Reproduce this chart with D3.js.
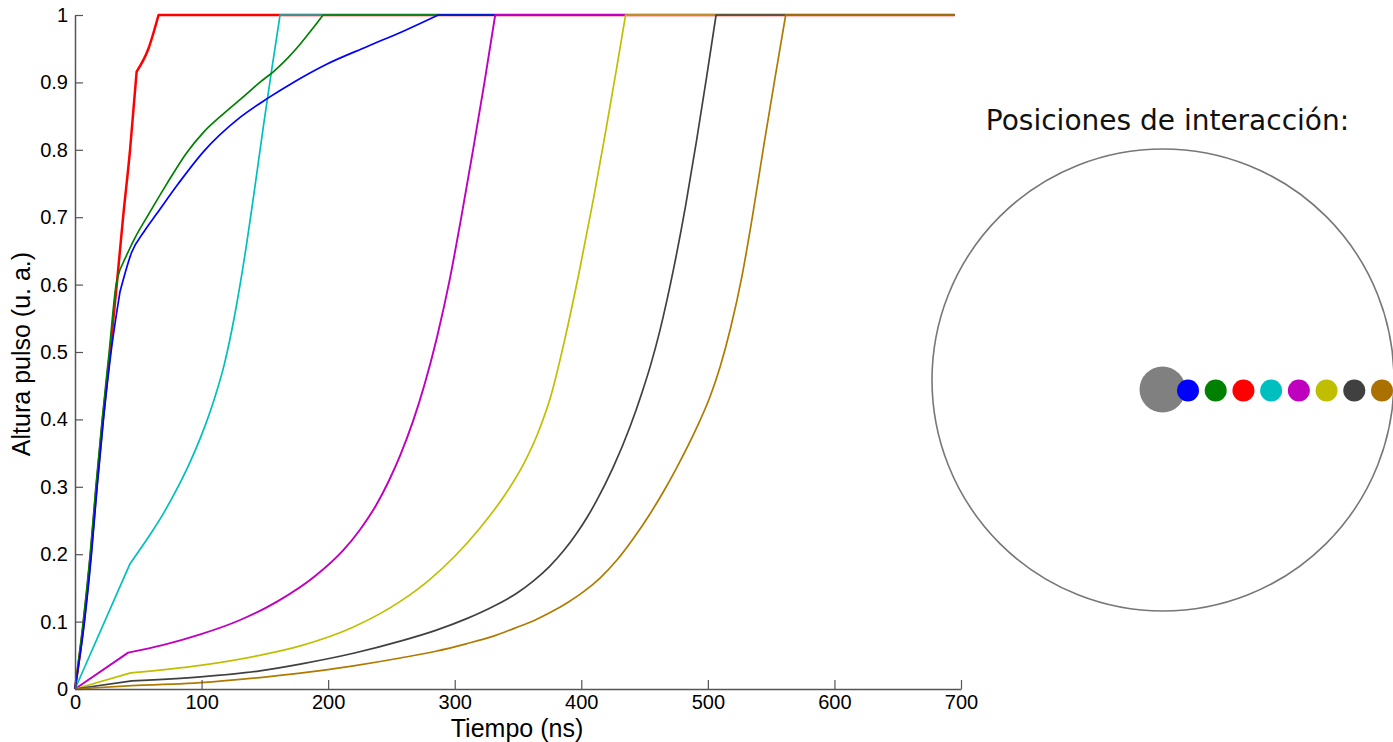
<!DOCTYPE html>
<html>
<head>
<meta charset="utf-8">
<script src="https://cdn.jsdelivr.net/npm/d3@7"></script>
<style>
  body { margin: 0; background: #fff; }
  svg { display: block; }
</style>
</head>
<body>
<div id="chart"></div>
<script>
// tiempo (ns), altura (u. a.)
var rojo = [[0,0],[7,0.1],[12.5,0.2],[17,0.3],[22,0.4],[27.7,0.5],[33,0.6],[38,0.7],[43.5,0.8],[48.7,0.916],[58,0.95],[66,1],[695,1]];
var cian = [[0,0],[43.5,0.186],[60,0.231],[70,0.261],[80,0.295],[90,0.333],[100,0.377],[110,0.43],[118,0.482],[126,0.553],[134,0.641],[142,0.743],[149,0.837],[155.5,0.92],[162,1],[695,1]];
var verde = [[0,0],[6.5,0.1],[12,0.2],[16.5,0.3],[21.5,0.4],[27,0.5],[32.5,0.6],[35.5,0.622],[47,0.668],[58.7,0.706],[72.4,0.749],[88,0.795],[102,0.827],[117,0.853],[132,0.877],[146,0.9],[158,0.918],[168,0.936],[178,0.957],[187,0.978],[196,1],[695,1]];
var azul = [[0,0],[7.5,0.1],[13,0.2],[17.5,0.3],[22.5,0.4],[28.5,0.5],[35.5,0.589],[44.8,0.648],[55,0.68],[64.5,0.705],[81.7,0.75],[101.4,0.797],[130.4,0.848],[152.7,0.877],[172.5,0.9],[198.8,0.927],[230.5,0.953],[259.4,0.976],[287,1],[695,1]];
var magenta = [[0,0],[42,0.054],[70,0.0655],[99,0.081],[130,0.102],[160,0.13],[190,0.168],[212,0.206],[225,0.236],[238,0.273],[248,0.309],[257,0.347],[267,0.397],[276.5,0.454],[286,0.522],[296,0.607],[305,0.698],[314.5,0.8],[323.5,0.9],[332,1],[695,1]];
var amarillo = [[0,0],[44,0.024],[99,0.035],[146,0.05],[178,0.064],[220,0.092],[257,0.13],[280,0.162],[300,0.197],[320,0.239],[340,0.289],[355,0.336],[366,0.381],[376,0.435],[387,0.519],[399,0.625],[410,0.731],[419.5,0.83],[428,0.922],[435,1],[695,1]];
var gris = [[0,0],[45,0.012],[99,0.018],[146,0.027],[178,0.037],[220,0.053],[257,0.071],[285,0.087],[309,0.104],[330,0.122],[349,0.142],[362,0.16],[375,0.182],[386,0.205],[396,0.23],[405,0.256],[412,0.279],[425,0.328],[438.5,0.389],[448,0.44],[455,0.482],[462,0.531],[473,0.624],[482.5,0.718],[491,0.813],[499,0.908],[506.5,1],[695,1]];
var marron = [[0,0],[45,0.005],[99,0.0094],[146,0.017],[178,0.0235],[220,0.0344],[257,0.046],[285,0.056],[309,0.067],[330,0.078],[347,0.09],[362,0.101],[375,0.113],[389,0.128],[401.6,0.144],[415,0.165],[428,0.191],[441,0.223],[454,0.259],[465,0.293],[475,0.327],[491,0.387],[502,0.435],[510,0.48],[518,0.536],[527,0.613],[536,0.71],[544.5,0.81],[553,0.906],[561.5,1],[695,1]];

// indice del quiebre de cada curva
var quiebreRojo = 9, quiebreCian = 1, quiebreVerde = 7, quiebreAzul = 6;
var quiebreMagenta = 1, quiebreAmarillo = 1, quiebreGris = 1, quiebreMarron = 1;

var xTicks = [0, 100, 200, 300, 400, 500, 600, 700];
var yTicks = [0, 0.1, 0.2, 0.3, 0.4, 0.5, 0.6, 0.7, 0.8, 0.9, 1];

// orden de dibujo: segun llegan a 1
var series = [
    { datos: rojo, quiebre: quiebreRojo, color: "#ff0000", ancho: 2.5 },
    { datos: cian, quiebre: quiebreCian, color: "#00bfbf", ancho: 1.7 },
    { datos: verde, quiebre: quiebreVerde, color: "#008000", ancho: 1.7 },
    { datos: azul, quiebre: quiebreAzul, color: "#0000ff", ancho: 1.7 },
    { datos: magenta, quiebre: quiebreMagenta, color: "#bf00bf", ancho: 1.9 },
    { datos: amarillo, quiebre: quiebreAmarillo, color: "#bfbf00", ancho: 1.7 },
    { datos: gris, quiebre: quiebreGris, color: "#404040", ancho: 1.7 },
    { datos: marron, quiebre: quiebreMarron, color: "#b07a00", ancho: 1.7 }
];

// posiciones de interaccion (desde el centro hacia el borde)
var posiciones = ["azul", "verde", "rojo", "cian", "magenta", "amarillo", "gris", "marron"];
var coloresPos = ["#0000ff", "#008000", "#ff0000", "#00bfbf", "#bf00bf", "#bfbf00", "#404040", "#aa7000"];

function init() {
    var w = 1393;
    var h = 742;
    var fuente = "'Liberation Sans', Arial, sans-serif";

    var svg = d3.select("#chart")
        .append("svg")
        .attr("width", w)
        .attr("height", h);

    var xScale = d3.scaleLinear().domain([0, 700]).range([75, 961]);
    var yScale = d3.scaleLinear().domain([0, 1]).range([689, 15]);

    var line = d3.line()
        .x(d => xScale(d[0]))
        .y(d => yScale(d[1]))
        .curve(d3.curveMonotoneX);

    // tramos: hasta el quiebre, subida, y saturacion en 1
    function trazo(s) {
        var n = s.datos.length;
        var cortes = [0, s.quiebre, n - 2, n - 1];
        var d = "";
        for (var i = 0; i < cortes.length - 1; i++) {
            var tramo = line(s.datos.slice(cortes[i], cortes[i + 1] + 1));
            d += i ? tramo.replace(/^M/, "L") : tramo;
        }
        return d;
    }

    svg.selectAll("path.serie")
        .data(series)
        .enter()
        .append("path")
        .attr("class", "serie")
        .attr("d", trazo)
        .attr("fill", "none")
        .attr("stroke", d => d.color)
        .attr("stroke-width", d => d.ancho)
        .attr("stroke-linejoin", "round");

    var xAxis = d3.axisBottom(xScale).tickValues(xTicks).tickSizeInner(-9).tickSizeOuter(0).tickFormat(d3.format("d"));
    var yAxis = d3.axisLeft(yScale).tickValues(yTicks).tickSizeInner(-8).tickSizeOuter(0).tickFormat(d => d === 0 || d === 1 ? d : d3.format(".1f")(d));

    var gx = svg.append("g")
        .attr("transform", "translate(0,689)")
        .call(xAxis);
    var gy = svg.append("g")
        .attr("transform", "translate(75,0)")
        .call(yAxis);

    [gx, gy].forEach(g => {
        g.select(".domain").attr("stroke", "#555").attr("stroke-width", 1.5);
        g.selectAll(".tick line").attr("stroke", "#555").attr("stroke-width", 1.2);
        g.selectAll(".tick text")
            .attr("fill", "#000")
            .style("font-family", fuente)
            .style("font-size", "20px");
    });
    gx.selectAll(".tick text").attr("y", 6);
    gy.selectAll(".tick text").attr("x", -7);

    svg.append("text")
        .attr("x", 517)
        .attr("y", 737)
        .attr("text-anchor", "middle")
        .style("font-family", fuente)
        .style("font-size", "25px")
        .text("Tiempo (ns)");

    svg.append("text")
        .attr("transform", "translate(30,354) rotate(-90)")
        .attr("text-anchor", "middle")
        .style("font-family", fuente)
        .style("font-size", "25px")
        .text("Altura pulso (u. a.)");

    // esquema del detector
    svg.append("text")
        .attr("x", 1167.5)
        .attr("y", 130)
        .attr("text-anchor", "middle")
        .attr("fill", "#111")
        .style("font-family", "'DejaVu Sans', sans-serif")
        .style("font-size", "28px")
        .text("Posiciones de interacción:");

    svg.append("circle")
        .attr("cx", 1163)
        .attr("cy", 380)
        .attr("r", 231)
        .attr("fill", "none")
        .attr("stroke", "#777")
        .attr("stroke-width", 1.6);

    svg.append("circle")
        .attr("cx", 1162.5)
        .attr("cy", 389.5)
        .attr("r", 23)
        .attr("fill", "#808080");

    var posScale = d3.scaleLinear().domain([0, posiciones.length - 1]).range([1188, 1382]);

    svg.selectAll("circle.pos")
        .data(posiciones)
        .enter()
        .append("circle")
        .attr("class", "pos")
        .attr("cx", (d, i) => posScale(i))
        .attr("cy", 390.5)
        .attr("r", 11)
        .attr("fill", (d, i) => coloresPos[i]);
}

window.onload = init;
</script>
</body>
</html>
